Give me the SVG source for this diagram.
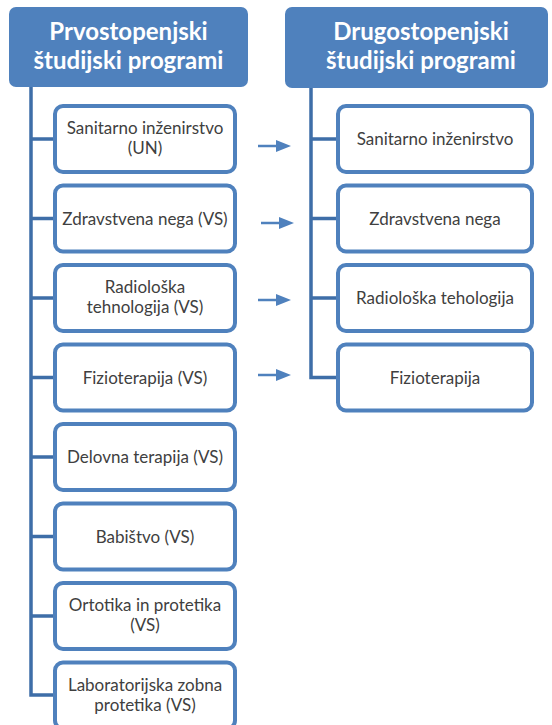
<svg xmlns="http://www.w3.org/2000/svg" width="552" height="725" viewBox="0 0 552 725">
<style>
.hdr{fill:#4F81BD;}
.ht{font-family:Lato,"Open Sans","Liberation Sans",sans-serif;font-weight:bold;font-size:24px;fill:#FFFFFF;text-anchor:middle;}
.box{fill:#FFFFFF;stroke:#4F81BD;stroke-width:4;}
.bt{font-family:Lato,"Open Sans","Liberation Sans",sans-serif;font-size:17px;fill:#404040;text-anchor:middle;}
.ln{fill:none;stroke:#3E6EA8;stroke-width:3.5;}
.ar{stroke:#4F81BD;stroke-width:2.5;fill:none;}
.ah{fill:#4F81BD;}
</style>
<rect width="552" height="725" fill="#FFFFFF"/>
<g id="connectors">
<path class="ln" d="M31 87 V695 H55 M31 139 H55 M31 218.5 H55 M31 298 H55 M31 377.5 H55 M31 457 H55 M31 536.5 H55 M31 616 H55"/>
<path class="ln" d="M311 88 V377.5 H338 M311 139 H338 M311 218.5 H338 M311 298 H338"/>
<g id="arrows">
<line class="ar" x1="258" y1="146" x2="278" y2="146"/><polygon class="ah" points="276,140 291,146 276,152"/>
<line class="ar" x1="261" y1="223" x2="281" y2="223"/><polygon class="ah" points="279,217 294,223 279,229"/>
<line class="ar" x1="258" y1="300" x2="278" y2="300"/><polygon class="ah" points="276,294 291,300 276,306"/>
<line class="ar" x1="258" y1="375" x2="278" y2="375"/><polygon class="ah" points="276,369 291,375 276,381"/>
</g>
</g>
<g id="h1"><rect class="hdr" x="9" y="7" width="239" height="80" rx="7"/><text class="ht" x="128.5" y="40">Prvostopenjski</text><text class="ht" x="128.5" y="69">študijski programi</text></g>
<g id="h2"><rect class="hdr" x="285" y="7" width="263" height="81" rx="7"/><text class="ht" x="421" y="40">Drugostopenjski</text><text class="ht" x="421" y="69">študijski programi</text></g>
<g id="l1"><rect class="box" x="55" y="106" width="180" height="66" rx="8"/><text class="bt" x="145" y="134">Sanitarno inženirstvo</text><text class="bt" x="145" y="154">(UN)</text></g>
<g id="l2"><rect class="box" x="55" y="185.5" width="180" height="66" rx="8"/><text class="bt" x="145" y="224.5">Zdravstvena nega (VS)</text></g>
<g id="l3"><rect class="box" x="55" y="265" width="180" height="66" rx="8"/><text class="bt" x="145" y="293">Radiološka</text><text class="bt" x="145" y="313">tehnologija (VS)</text></g>
<g id="l4"><rect class="box" x="55" y="344.5" width="180" height="66" rx="8"/><text class="bt" x="145" y="383.5">Fizioterapija (VS)</text></g>
<g id="l5"><rect class="box" x="55" y="424" width="180" height="66" rx="8"/><text class="bt" x="145" y="463">Delovna terapija (VS)</text></g>
<g id="l6"><rect class="box" x="55" y="503.5" width="180" height="66" rx="8"/><text class="bt" x="145" y="542.5">Babištvo (VS)</text></g>
<g id="l7"><rect class="box" x="55" y="583" width="180" height="66" rx="8"/><text class="bt" x="145" y="611">Ortotika in protetika</text><text class="bt" x="145" y="631">(VS)</text></g>
<g id="l8"><rect class="box" x="55" y="662.5" width="180" height="66" rx="8"/><text class="bt" x="145" y="690.5">Laboratorijska zobna</text><text class="bt" x="145" y="710.5">protetika (VS)</text></g>
<g id="r1"><rect class="box" x="338" y="106" width="194" height="66" rx="8"/><text class="bt" x="435" y="145">Sanitarno inženirstvo</text></g>
<g id="r2"><rect class="box" x="338" y="185.5" width="194" height="66" rx="8"/><text class="bt" x="435" y="224.5">Zdravstvena nega</text></g>
<g id="r3"><rect class="box" x="338" y="265" width="194" height="66" rx="8"/><text class="bt" x="435" y="304">Radiološka tehologija</text></g>
<g id="r4"><rect class="box" x="338" y="344.5" width="194" height="66" rx="8"/><text class="bt" x="435" y="383.5">Fizioterapija</text></g>
</svg>
